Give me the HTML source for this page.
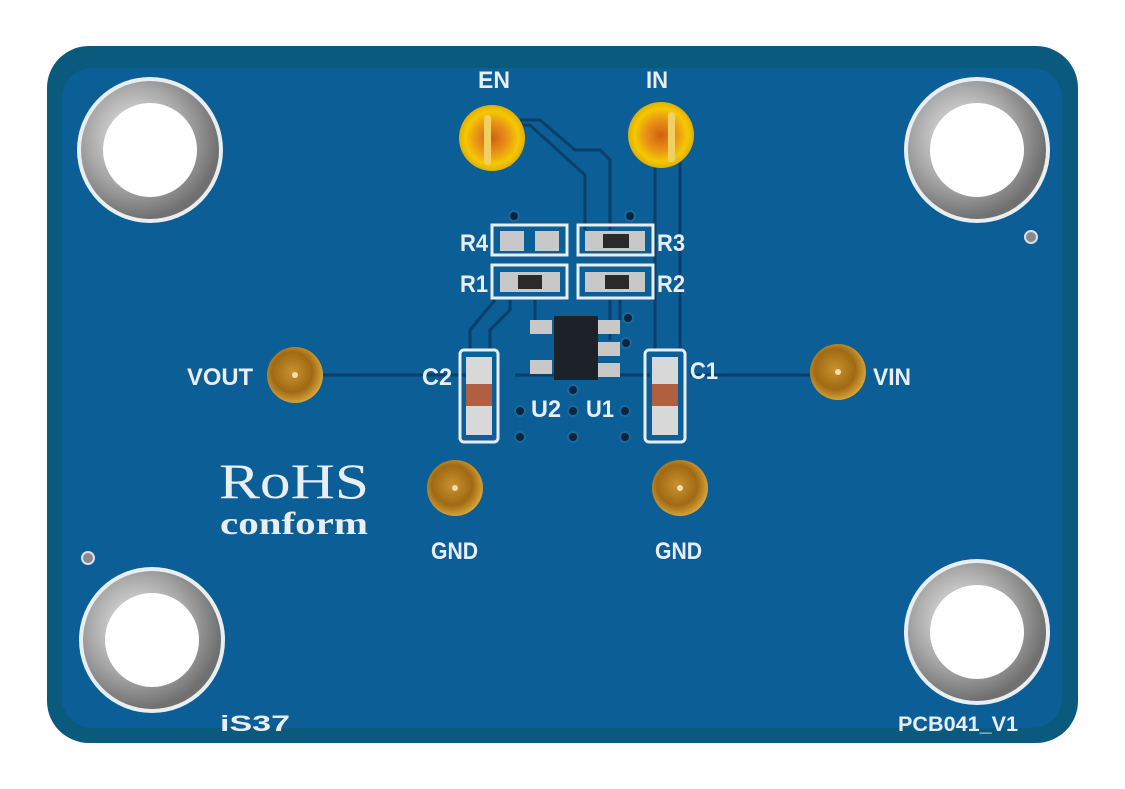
<!DOCTYPE html>
<html><head><style>html,body{margin:0;padding:0;background:#fff}svg{display:block}</style></head><body>
<svg width="1125" height="789" viewBox="0 0 1125 789" xmlns="http://www.w3.org/2000/svg" font-family="Liberation Sans, sans-serif">
<defs>
<radialGradient id="ag" cx="0.4" cy="0.4" r="0.6"><stop offset="0" stop-color="#f0f0f0"/><stop offset="0.6" stop-color="#a8a8a8"/><stop offset="1" stop-color="#707070"/></radialGradient>
<radialGradient id="au" cx="0.45" cy="0.45" r="0.6"><stop offset="0" stop-color="#c9912e"/><stop offset="0.6" stop-color="#a06a14"/><stop offset="1" stop-color="#e2b040"/></radialGradient>
<radialGradient id="ye" cx="0.5" cy="0.5" r="0.5"><stop offset="0" stop-color="#d06010"/><stop offset="0.45" stop-color="#e89018"/><stop offset="0.8" stop-color="#f5c800"/><stop offset="1" stop-color="#e0b000"/></radialGradient>
</defs>
<rect x="47" y="46" width="1031" height="697" rx="42" fill="#0a5a7e"/>
<rect x="62" y="68" width="1000" height="660" rx="30" fill="#0b5e96"/>
<g stroke="#0a3f6a" stroke-width="3" fill="none">
<path d="M320 375 H470"/><path d="M690 375 H820"/>
<path d="M515 375 H650"/>
<path d="M520 120 H540 L575 150 H600 L610 160 V230"/>
<path d="M505 125 H530 L585 175 V230"/>
<path d="M655 160 V350"/><path d="M680 160 V350"/>
<path d="M470 350 V330 L495 300"/><path d="M490 350 V330 L510 310 V300"/>
<path d="M535 300 V320"/><path d="M620 300 V320"/><path d="M610 300 V340"/>
</g>
<g>
<circle cx="150" cy="150" r="73" fill="#e8eef2"/><circle cx="150" cy="150" r="69" fill="url(#ag)"/><circle cx="150" cy="150" r="47" fill="#fff"/>
<circle cx="977" cy="150" r="73" fill="#e8eef2"/><circle cx="977" cy="150" r="69" fill="url(#ag)"/><circle cx="977" cy="150" r="47" fill="#fff"/>
<circle cx="152" cy="640" r="73" fill="#e8eef2"/><circle cx="152" cy="640" r="69" fill="url(#ag)"/><circle cx="152" cy="640" r="47" fill="#fff"/>
<circle cx="977" cy="632" r="73" fill="#e8eef2"/><circle cx="977" cy="632" r="69" fill="url(#ag)"/><circle cx="977" cy="632" r="47" fill="#fff"/>
</g>
<circle cx="1031" cy="237" r="6" fill="#8a8a8a" stroke="#dde" stroke-width="2"/>
<circle cx="88" cy="558" r="6" fill="#8a8a8a" stroke="#dde" stroke-width="2"/>
<circle cx="492" cy="138" r="33" fill="url(#ye)"/><rect x="484" y="115" width="7" height="50" rx="3" fill="#f0d060"/>
<circle cx="661" cy="135" r="33" fill="url(#ye)"/><rect x="668" y="112" width="7" height="50" rx="3" fill="#f0d060"/>
<circle cx="295" cy="375" r="28" fill="url(#au)"/><circle cx="295" cy="375" r="3" fill="#f0e0b0"/>
<circle cx="838" cy="372" r="28" fill="url(#au)"/><circle cx="838" cy="372" r="3" fill="#f0e0b0"/>
<circle cx="455" cy="488" r="28" fill="url(#au)"/><circle cx="455" cy="488" r="3" fill="#f0e0b0"/>
<circle cx="680" cy="488" r="28" fill="url(#au)"/><circle cx="680" cy="488" r="3" fill="#f0e0b0"/>
<g fill="#0a2540" stroke="#1a6a9a" stroke-width="2">
<circle cx="514" cy="216" r="5"/><circle cx="630" cy="216" r="5"/>
<circle cx="626" cy="343" r="5"/><circle cx="628" cy="318" r="5"/>
<circle cx="573" cy="390" r="5"/><circle cx="520" cy="411" r="5"/><circle cx="573" cy="411" r="5"/><circle cx="625" cy="411" r="5"/>
<circle cx="520" cy="437" r="5"/><circle cx="573" cy="437" r="5"/><circle cx="625" cy="437" r="5"/>
</g>
<g fill="none" stroke="#e8eef4" stroke-width="3">
<rect x="492" y="225" width="75" height="30"/><rect x="578" y="225" width="75" height="30"/>
<rect x="492" y="265" width="75" height="33"/><rect x="578" y="265" width="75" height="33"/>
<rect x="460" y="350" width="38" height="92" rx="4"/><rect x="645" y="350" width="40" height="92" rx="4"/>
</g>
<g fill="#c8c8c8">
<rect x="500" y="231" width="24" height="20"/><rect x="535" y="231" width="24" height="20"/>
<rect x="585" y="231" width="60" height="20"/>
<rect x="500" y="272" width="60" height="20"/><rect x="585" y="272" width="60" height="20"/>
<rect x="530" y="320" width="22" height="14"/><rect x="598" y="320" width="22" height="14"/><rect x="598" y="342" width="22" height="14"/><rect x="598" y="363" width="22" height="14"/><rect x="530" y="360" width="22" height="14"/>
</g>
<g fill="#2a2a2a"><rect x="603" y="234" width="26" height="14"/><rect x="518" y="275" width="24" height="14"/><rect x="605" y="275" width="24" height="14"/></g>
<rect x="554" y="316" width="44" height="64" fill="#1c2228"/>
<g><rect x="466" y="357" width="26" height="78" fill="#d8d8d8"/><rect x="466" y="384" width="26" height="22" fill="#b06040"/>
<rect x="652" y="357" width="26" height="78" fill="#d8d8d8"/><rect x="652" y="384" width="26" height="22" fill="#b06040"/></g>
<g fill="#e8eef4" font-weight="bold" font-size="24" lengthAdjust="spacingAndGlyphs">
<text x="478" y="88" textLength="32" lengthAdjust="spacingAndGlyphs">EN</text><text x="646" y="88" textLength="22" lengthAdjust="spacingAndGlyphs">IN</text>
<text x="460" y="251" textLength="28" lengthAdjust="spacingAndGlyphs">R4</text><text x="657" y="251" textLength="28" lengthAdjust="spacingAndGlyphs">R3</text>
<text x="460" y="292" textLength="28" lengthAdjust="spacingAndGlyphs">R1</text><text x="657" y="292" textLength="28" lengthAdjust="spacingAndGlyphs">R2</text>
<text x="187" y="385" textLength="66" lengthAdjust="spacingAndGlyphs">VOUT</text><text x="873" y="385" textLength="38" lengthAdjust="spacingAndGlyphs">VIN</text>
<text x="422" y="385" textLength="30" lengthAdjust="spacingAndGlyphs">C2</text><text x="690" y="379" textLength="28" lengthAdjust="spacingAndGlyphs">C1</text>
<text x="531" y="417" textLength="30" lengthAdjust="spacingAndGlyphs">U2</text><text x="586" y="417" textLength="28" lengthAdjust="spacingAndGlyphs">U1</text>
<text x="431" y="559" textLength="47" lengthAdjust="spacingAndGlyphs">GND</text><text x="655" y="559" textLength="47" lengthAdjust="spacingAndGlyphs">GND</text>
<text x="220" y="731" font-size="22" textLength="70" lengthAdjust="spacingAndGlyphs">iS37</text>
<text x="898" y="731" font-size="21" textLength="120" lengthAdjust="spacingAndGlyphs">PCB041_V1</text>
</g>
<text x="219" y="498" fill="#e8eef4" font-family="Liberation Serif, serif" font-size="50" textLength="150" lengthAdjust="spacingAndGlyphs">RoHS</text>
<text x="220" y="534" fill="#e8eef4" font-family="Liberation Serif, serif" font-weight="bold" font-size="32" textLength="148" lengthAdjust="spacingAndGlyphs">conform</text>
</svg>
</body></html>
